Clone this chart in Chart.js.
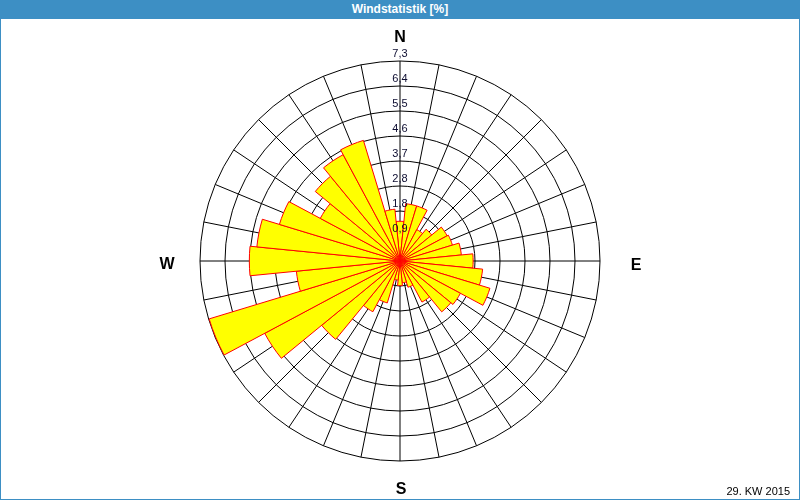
<!DOCTYPE html>
<html><head><meta charset="utf-8">
<script src="https://cdn.jsdelivr.net/npm/chart.js@4"></script>
<style>
html,body{margin:0;padding:0;background:#fff;}
#wrap{position:relative;width:800px;height:500px;overflow:hidden;background:#ffffff;}
#chart{position:absolute;left:0;top:0;}
#frame{position:absolute;left:0;top:0;width:798px;height:498px;border:1px solid #3d8fc4;pointer-events:none;}
#title{position:absolute;left:0;top:0;width:800px;height:19px;background:#3d8fc4;color:#fff;font:bold 12px "Liberation Sans",Arial,sans-serif;line-height:19px;text-align:center;}
.dir{position:absolute;font:bold 16px "Liberation Sans",Arial,sans-serif;color:#000;width:40px;height:20px;line-height:20px;text-align:center;margin-left:-20px;margin-top:-10px;}
#foot{position:absolute;right:10px;top:485px;font:11px "Liberation Sans",Arial,sans-serif;color:#000;line-height:13px;}
</style></head>
<body>
<div id="wrap">
<canvas id="chart" width="800" height="500"></canvas>
<div id="title"></div>
<div id="frame"></div>
<div class="dir" id="dN" style="left:400px;top:37px"></div>
<div class="dir" id="dE" style="left:636px;top:265px"></div>
<div class="dir" id="dS" style="left:401px;top:489px"></div>
<div class="dir" id="dW" style="left:167px;top:264px"></div>
<div id="foot"></div>
</div>
<script>
// ---- data ----
const chartTitle = 'Windstatistik [%]';
const footerText = '29. KW 2015';
const compassNames = ['N', 'E', 'S', 'W'];
const directions = ['N','NzO','NNO','NOzN','NO','NOzO','ONO','OzN',
                    'O','OzS','OSO','SOzO','SO','SOzS','SSO','SzO',
                    'S','SzW','SSW','SWzS','SW','SWzW','WSW','WzS',
                    'W','WzN','WNW','NWzW','NW','NWzN','NNW','NzW'];
const windPercent = [1.45, 2.1, 2.1, 1.3, 1.5, 1.95, 2.0, 2.25,
                     2.67, 3.03, 3.43, 2.5, 2.4, 1.7, 1.0, 0.8,
                     0.9, 0.7, 1.6, 2.1, 3.7, 5.6, 7.28, 3.8,
                     5.5, 5.25, 4.6, 3.3, 4.0, 4.4, 4.6, 1.9];
const ringValues = [0, 0.9125, 1.825, 2.7375, 3.65, 4.5625, 5.475, 6.3875, 7.3];
const tickLabels = ['', '0,9', '1,8', '2,8', '3,7', '4,6', '5,5', '6,4', '7,3'];
const scaleMax = 7.3;

// ---- texts ----
document.getElementById('title').textContent = chartTitle;
document.getElementById('foot').textContent = footerText;
['dN','dE','dS','dW'].forEach((id, i) => document.getElementById(id).textContent = compassNames[i]);

// ---- chart ----
const halfSector = 180 / directions.length;   // bars centred on their direction
const labelLift = 0.274;                       // ring labels sit just above each ring
const tickFont = {family: '"Liberation Sans", Arial, sans-serif', size: 11};

new Chart(document.getElementById('chart'), {
  type: 'polarArea',
  data: {
    labels: directions,
    datasets: [{
      data: windPercent,
      backgroundColor: '#ffff00',
      borderColor: '#ff0000',
      borderWidth: 1
    }]
  },
  options: {
    responsive: false,
    animation: false,
    devicePixelRatio: 1,
    layout: {padding: {top: 54, bottom: 31, left: 0, right: 0}},
    plugins: {legend: {display: false}, tooltip: {enabled: false}, title: {display: false}},
    scales: {
      r: {
        type: 'radialLinear',
        display: true,
        min: 0,
        max: scaleMax,
        startAngle: -halfSector,
        afterBuildTicks: (s) => { s.ticks = ringValues.map(v => ({value: v})); },
        grid: {display: true, circular: true, color: '#000000', lineWidth: 1},
        angleLines: {display: false},
        pointLabels: {display: false},
        ticks: {display: true, showLabelBackdrop: false, color: 'rgba(0,0,0,0)', font: tickFont}
      },
      rGrid: {
        type: 'radialLinear',
        axis: 'r',
        display: true,
        min: -labelLift,
        max: scaleMax - labelLift,
        startAngle: 0,
        afterBuildTicks: (s) => { s.ticks = ringValues.map(v => ({value: v})); },
        grid: {display: false},
        angleLines: {display: true, color: '#000000', lineWidth: 1},
        pointLabels: {display: false},
        ticks: {
          display: true, z: 1, showLabelBackdrop: false, color: '#0c0c30', font: tickFont,
          callback: (v, i) => tickLabels[i]
        }
      }
    }
  }
});
</script>
</body></html>
